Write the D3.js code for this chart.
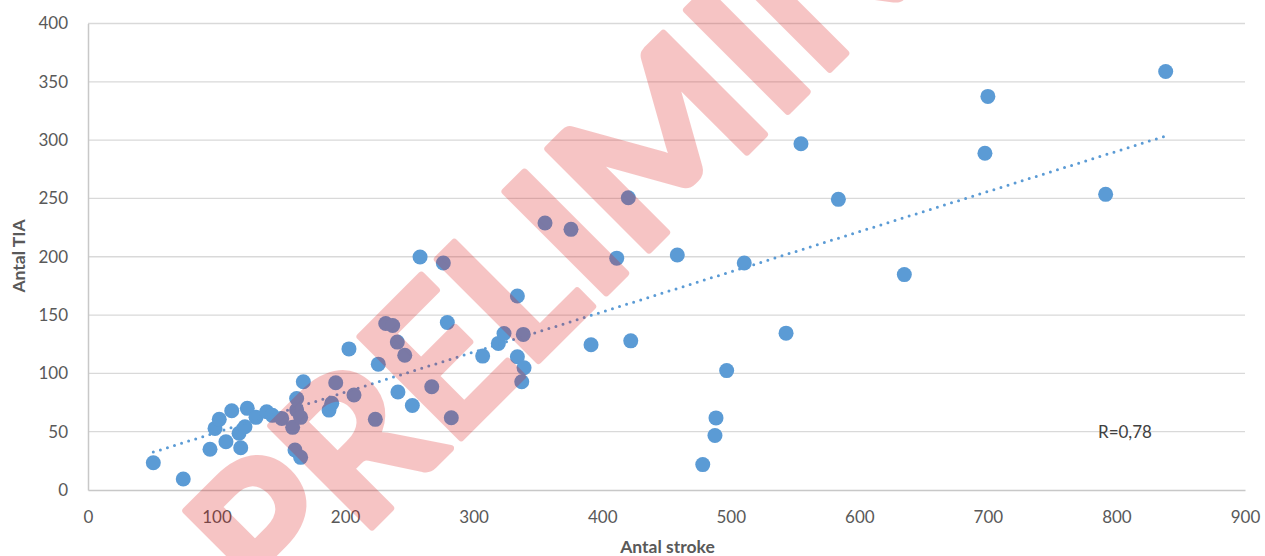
<!DOCTYPE html>
<html>
<head>
<meta charset="utf-8">
<script src="https://cdn.jsdelivr.net/npm/d3@7"></script>
<style>
  html, body { margin: 0; padding: 0; background: #ffffff; }
  svg { display: block; }
</style>
</head>
<body>
<svg id="chart" width="1265" height="556"></svg>
<script>
// ---------------- DATA ----------------
const strokeCounts = [
  50.8, 74.1, 94.9, 98.8, 102.1, 107.3, 111.8, 117.5, 118.8, 122.1,
  123.9, 130.7, 139.0, 143.4, 150.7, 159.2, 161.0, 162.3, 162.3, 165.4,
  165.4, 167.5, 187.5, 189.6, 192.7, 203.0, 206.9, 223.5, 225.8, 231.6,
  237.0, 240.6, 241.1, 246.4, 252.3, 258.3, 267.4, 276.4, 279.5, 282.6,
  307.0, 319.2, 323.6, 334.0, 334.0, 338.6, 339.2, 337.4, 355.5, 375.7,
  420.3, 458.4, 411.3, 510.5, 391.3, 422.2, 496.8, 488.5, 487.7, 478.2,
  554.6, 583.7, 635.0, 543.0, 700.0, 697.7, 791.6, 838.3
];
const tiaCounts = [
  23.4, 9.4, 34.9, 52.8, 60.6, 41.4, 67.9, 48.6, 36.2, 54.2,
  70.0, 62.3, 67.1, 64.0, 61.4, 53.7, 34.3, 78.5, 68.5, 62.3,
  28.0, 92.8, 68.5, 74.3, 91.9, 121.0, 81.4, 60.6, 107.9, 142.8,
  141.1, 126.8, 84.0, 115.6, 72.5, 199.8, 88.5, 194.7, 143.6, 61.9,
  114.8, 125.7, 134.2, 166.4, 114.2, 133.4, 104.8, 92.8, 229.0, 223.5,
  250.6, 201.5, 198.8, 194.6, 124.6, 127.9, 102.4, 61.8, 46.7, 21.8,
  296.9, 249.2, 184.7, 134.5, 337.5, 288.7, 253.5, 358.9
];
const xTickValues = [0, 100, 200, 300, 400, 500, 600, 700, 800, 900];
const yTickValues = [0, 50, 100, 150, 200, 250, 300, 350, 400];
const xAxisTitle = "Antal stroke";
const yAxisTitle = "Antal TIA";
const correlationLabel = "R=0,78";
const watermarkLetters = ["P","R","E","L","I","M","I","N","A","R","Y"];

// ---------------- LAYOUT / STYLE ----------------
const plot = { left: 88, right: 1245, top: 23.5, bottom: 490 };
const blue = "#5b9bd5";
const textColor = "#595959";
const font = "Lato, 'Open Sans', sans-serif";

const svg = d3.select("#chart");

const x = d3.scaleLinear().domain([0, 900]).range([plot.left, plot.right]);
const y = d3.scaleLinear().domain([0, 400]).range([plot.bottom, plot.top]);

// gridlines
svg.append("g").selectAll("line").data(yTickValues.filter(v => v > 0)).join("line")
  .attr("x1", plot.left).attr("x2", plot.right)
  .attr("y1", d => y(d)).attr("y2", d => y(d))
  .attr("stroke", "#d9d9d9").attr("stroke-width", 1.3);

// x axis
const xAxis = svg.append("g").attr("transform", `translate(0,${plot.bottom})`)
  .call(d3.axisBottom(x).tickValues(xTickValues).tickSize(0).tickPadding(21).tickFormat(d3.format("d")));
xAxis.select(".domain").attr("stroke", "#c8c8c8").attr("stroke-width", 1.5);
xAxis.selectAll("text").attr("font-family", font).attr("font-size", 17).attr("fill", textColor);

// y axis
const yAxis = svg.append("g").attr("transform", `translate(${plot.left},0)`)
  .call(d3.axisLeft(y).tickValues(yTickValues).tickSize(0).tickPadding(20).tickFormat(d3.format("d")));
yAxis.select(".domain").attr("stroke", "#c8c8c8").attr("stroke-width", 1.5);
yAxis.selectAll("text").attr("font-family", font).attr("font-size", 17).attr("fill", textColor);

// axis titles
svg.append("text").attr("x", (plot.left + plot.right) / 2 + 1).attr("y", 553)
  .attr("text-anchor", "middle").attr("font-family", font).attr("font-weight", 700)
  .attr("font-size", 17.5).attr("fill", textColor).text(xAxisTitle);
svg.append("text").attr("transform", "translate(25,256) rotate(-90)")
  .attr("text-anchor", "middle").attr("font-family", font).attr("font-weight", 700)
  .attr("font-size", 17.5).attr("fill", textColor).text(yAxisTitle);

// points
const pts = strokeCounts.map((v, i) => ({ sx: v, ty: tiaCounts[i] }));
svg.append("g").selectAll("circle").data(pts).join("circle")
  .attr("cx", d => x(d.sx)).attr("cy", d => y(d.ty)).attr("r", 7.5)
  .attr("fill", blue);

// linear trend line (least squares)
const mx = d3.mean(strokeCounts), my = d3.mean(tiaCounts);
let sxy = 0, sxx = 0;
strokeCounts.forEach((v, i) => { sxy += (v - mx) * (tiaCounts[i] - my); sxx += (v - mx) * (v - mx); });
const slope = sxy / sxx, intercept = my - slope * mx;
const ext = d3.extent(strokeCounts);
const trend = ext.map(v => ({ sx: v, ty: intercept + slope * v }));
svg.append("path").datum(trend)
  .attr("d", d3.line().x(d => x(d.sx)).y(d => y(d.ty)))
  .attr("fill", "none").attr("stroke", blue).attr("stroke-width", 3)
  .attr("stroke-linecap", "round").attr("stroke-dasharray", "0 7.4");

// correlation label
svg.append("text").attr("x", 1098).attr("y", 438)
  .attr("font-family", font).attr("font-size", 17).attr("fill", "#404040").text(correlationLabel);

// watermark (letters fitted into Calibri-Bold-like advance cells)
const advances = [0.532, 0.563, 0.488, 0.42, 0.267, 0.874, 0.267, 0.659, 0.606, 0.563, 0.52];
const wmEm = 225;
const starts = [];
let acc = 0;
advances.forEach(a => { starts.push(acc); acc += a; });
const anchorS = (starts[4] + advances[4] / 2) * wmEm;
const wm = svg.append("g")
  .attr("transform", `translate(616,283) rotate(-45) translate(${-anchorS},0)`)
  .attr("opacity", 0.24);
const letters = wm.selectAll("text").data(watermarkLetters).join("text")
  .attr("x", 0).attr("y", 0)
  .attr("text-anchor", "middle")
  .attr("font-family", font).attr("font-weight", 700).attr("font-size", 198)
  .attr("fill", "rgb(220,15,15)").attr("stroke", "rgb(220,15,15)")
  .attr("stroke-width", 7).attr("stroke-linejoin", "round")
  .text(d => d);
letters.each(function(d, i) {
  const len = this.getComputedTextLength();
  const cell = advances[i] * wmEm;
  const sx = len > 0 ? Math.min(1.05, Math.max(0.8, cell / len)) : 1;
  const cx = (starts[i] + advances[i] / 2) * wmEm;
  d3.select(this).attr("transform", `translate(${cx},0) scale(${sx},1)`);
});
</script>
</body>
</html>
